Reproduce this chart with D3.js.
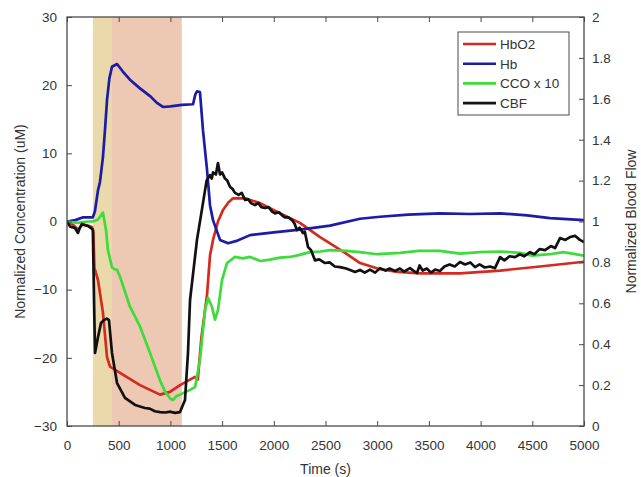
<!DOCTYPE html>
<html>
<head>
<meta charset="utf-8">
<script src="https://cdnjs.cloudflare.com/ajax/libs/d3/7.8.5/d3.min.js"></script>
<style>
  body { margin: 0; background: #fff; }
  text { font-family: "Liberation Sans", Arial, sans-serif; fill: #333; }
</style>
</head>
<body>
<div id="chart"></div>
<script>
// x ticks / y ticks
var xTicks = [0, 500, 1000, 1500, 2000, 2500, 3000, 3500, 4000, 4500, 5000];
var yTicks = [-30, -20, -10, 0, 10, 20, 30];
var y2Ticks = [0, 0.2, 0.4, 0.6, 0.8, 1, 1.2, 1.4, 1.6, 1.8, 2];

// shaded phases (time, s)
var phases = [
  { from: 250, to: 435, color: "#ead9aa" },
  { from: 435, to: 1110, color: "#edc8b2" }
];

// HbO2 (uM)
var hbo2 = [[0,0],[60,-0.5],[110,-1.2],[150,-0.4],[200,-0.6],[240,-0.8],[255,-1.5],[265,-6.8],[300,-8.6],[348,-13.4],[387,-19.9],[416,-21.3],[513,-22.2],[706,-24],[899,-25.4],[996,-25],[1093,-24],[1238,-22.8],[1265,-23.2],[1300,-17],[1354,-10.8],[1383,-5],[1412,-2.7],[1460,0],[1509,1.7],[1560,2.8],[1606,3.4],[1722,3.4],[1867,2.7],[2060,1.2],[2253,-0.2],[2447,-2.3],[2544,-3.2],[2689,-4.6],[2834,-6.1],[3027,-7],[3200,-7.4],[3414,-7.6],[3801,-7.6],[4188,-7.2],[4574,-6.6],[5000,-5.9]];

// Hb (uM)
var hb = [[0,0],[80,0.2],[150,0.6],[250,0.6],[270,1.5],[300,4.6],[319,5.8],[348,9.5],[370,14],[387,17.8],[410,21],[435,22.7],[484,23.1],[540,22],[609,20.8],[700,19.6],[803,18.4],[870,17.4],[928,16.8],[1000,16.9],[1112,17.1],[1219,17.2],[1240,18.6],[1257,19.1],[1286,19],[1315,13.4],[1354,7.6],[1383,2.4],[1412,0.2],[1480,-2.7],[1557,-3.2],[1650,-2.8],[1770,-2],[2000,-1.6],[2253,-1.2],[2400,-0.9],[2544,-0.6],[2834,0.4],[3027,0.7],[3300,1],[3607,1.2],[3900,1.1],[4188,1.2],[4450,0.9],[4671,0.5],[5000,0.2]];

// CCO x 10 (uM)
var cco = [[0,0],[100,-0.2],[200,0],[250,0],[300,0.3],[348,1.3],[377,-1.2],[396,-4.2],[435,-6.7],[460,-7],[484,-7.1],[513,-8.1],[609,-12.5],[706,-15.4],[803,-19.3],[899,-23.3],[950,-25],[1000,-26],[1025,-26.2],[1060,-25.6],[1093,-25.4],[1190,-24.7],[1238,-24.3],[1286,-20.3],[1335,-13],[1364,-11.2],[1402,-12.5],[1431,-14.4],[1460,-13],[1499,-8.6],[1547,-6.1],[1625,-5.2],[1700,-5.4],[1770,-5.2],[1870,-5.8],[1963,-5.6],[2060,-5.3],[2157,-5.2],[2250,-4.9],[2350,-4.5],[2450,-4.4],[2544,-4.2],[2700,-4.3],[2834,-4.5],[3000,-4.8],[3221,-4.6],[3400,-4.3],[3607,-4.3],[3800,-4.7],[3994,-4.5],[4200,-4.4],[4381,-4.6],[4500,-5],[4671,-4.8],[4800,-4.5],[5000,-5]];

// CBF (normalized)
var cbf = [[0,1],[30,0.975],[77,0.968],[106,0.944],[125,0.97],[145,0.988],[174,0.982],[203,0.978],[232,0.968],[250,0.96],[262,0.6],[271,0.357],[300,0.435],[329,0.504],[358,0.518],[385,0.525],[406,0.518],[435,0.357],[484,0.21],[561,0.137],[658,0.103],[754,0.088],[800,0.085],[850,0.072],[899,0.068],[950,0.066],[1000,0.07],[1044,0.064],[1093,0.068],[1141,0.127],[1170,0.357],[1190,0.616],[1209,0.7],[1257,0.91],[1315,1.09],[1350,1.2],[1383,1.227],[1400,1.21],[1412,1.24],[1440,1.23],[1460,1.286],[1480,1.23],[1500,1.24],[1528,1.21],[1550,1.2],[1576,1.17],[1600,1.16],[1625,1.14],[1660,1.13],[1690,1.14],[1722,1.105],[1750,1.11],[1780,1.09],[1818,1.08],[1850,1.09],[1880,1.07],[1915,1.066],[1950,1.07],[1980,1.05],[2012,1.04],[2050,1.045],[2080,1.03],[2108,1.02],[2140,1.02],[2176,1.007],[2200,0.99],[2224,0.958],[2250,0.97],[2282,0.943],[2300,0.95],[2331,0.875],[2360,0.86],[2398,0.81],[2440,0.815],[2495,0.797],[2540,0.8],[2590,0.78],[2640,0.777],[2700,0.77],[2750,0.76],[2785,0.753],[2834,0.763],[2880,0.75],[2930,0.765],[2980,0.75],[3027,0.772],[3080,0.76],[3120,0.77],[3172,0.758],[3220,0.77],[3260,0.755],[3317,0.772],[3350,0.76],[3385,0.748],[3410,0.785],[3440,0.76],[3480,0.77],[3520,0.75],[3560,0.765],[3607,0.758],[3650,0.78],[3700,0.79],[3750,0.78],[3801,0.802],[3850,0.79],[3900,0.8],[3946,0.777],[3990,0.79],[4040,0.775],[4090,0.78],[4139,0.772],[4188,0.826],[4230,0.81],[4280,0.83],[4333,0.826],[4380,0.84],[4420,0.83],[4478,0.85],[4520,0.84],[4570,0.865],[4623,0.86],[4680,0.88],[4720,0.87],[4768,0.919],[4820,0.91],[4865,0.924],[4913,0.93],[4960,0.91],[5000,0.9]];

var series = [
  { name: "HbO2", data: hbo2, color: "#d42a1f", axis: "left" },
  { name: "Hb", data: hb, color: "#1c1ca6", axis: "left" },
  { name: "CCO x 10", data: cco, color: "#3ddc3a", axis: "left" },
  { name: "CBF", data: cbf, color: "#111111", axis: "right" }
];

var W = 641, H = 477;
var margin = { top: 17, right: 57, bottom: 51, left: 67 };
var iw = W - margin.left - margin.right;
var ih = H - margin.top - margin.bottom;

var svg = d3.select("#chart").append("svg")
            .attr("width", W)
            .attr("height", H);

var x = d3.scaleLinear().domain([0, 5000]).range([margin.left, margin.left + iw]);
var y = d3.scaleLinear().domain([-30, 30]).range([margin.top + ih, margin.top]);
var y2 = d3.scaleLinear().domain([0, 2]).range([margin.top + ih, margin.top]);

// phases
svg.selectAll("rect.phase")
   .data(phases)
   .enter().append("rect")
   .attr("class", "phase")
   .attr("x", function(d) { return x(d.from); })
   .attr("y", margin.top)
   .attr("width", function(d) { return x(d.to) - x(d.from); })
   .attr("height", ih)
   .attr("fill", function(d) { return d.color; });

// lines
var clip = svg.append("clipPath").attr("id", "clip")
              .append("rect")
              .attr("x", margin.left).attr("y", margin.top)
              .attr("width", iw).attr("height", ih);

var g = svg.append("g").attr("clip-path", "url(#clip)");
series.forEach(function(s) {
  var sy = s.axis === "left" ? y : y2;
  var line = d3.line()
               .x(function(d) { return x(d[0]); })
               .y(function(d) { return sy(d[1]); })
               .curve(d3.curveLinear);
  g.append("path")
   .datum(s.data)
   .attr("d", line)
   .attr("fill", "none")
   .attr("stroke", s.color)
   .attr("stroke-width", 2.7)
   .attr("stroke-linejoin", "round")
   .attr("stroke-linecap", "round");
});

// axes (ticks inward, matlab style)
var axisColor = "#4a4a4a";
function styleAxis(sel) {
  sel.select(".domain").remove();
  sel.selectAll(".tick line").attr("stroke", axisColor);
  sel.selectAll(".tick text").style("font-size", "13.5px").attr("fill", "#333");
}

svg.append("g")
   .attr("transform", "translate(0," + (margin.top + ih) + ")")
   .call(d3.axisBottom(x).tickValues(xTicks).tickSize(-5).tickPadding(14).tickFormat(d3.format("d")))
   .call(styleAxis);
svg.append("g")
   .attr("transform", "translate(0," + margin.top + ")")
   .call(d3.axisTop(x).tickValues(xTicks).tickSize(-5).tickFormat(""))
   .call(styleAxis);
svg.append("g")
   .attr("transform", "translate(" + margin.left + ",0)")
   .call(d3.axisLeft(y).tickValues(yTicks).tickSize(-5).tickPadding(10))
   .call(styleAxis);
svg.append("g")
   .attr("transform", "translate(" + (margin.left + iw) + ",0)")
   .call(d3.axisRight(y2).tickValues(y2Ticks).tickSize(-5).tickPadding(8).tickFormat(function(d) { return d3.format("~g")(d); }))
   .call(styleAxis);

// box
svg.append("rect")
   .attr("x", margin.left).attr("y", margin.top)
   .attr("width", iw).attr("height", ih)
   .attr("fill", "none")
   .attr("stroke", axisColor)
   .attr("stroke-width", 1.3);

// axis labels
svg.append("text")
   .attr("transform", "translate(25," + (margin.top + ih / 2) + ") rotate(-90)")
   .attr("text-anchor", "middle")
   .style("font-size", "14px")
   .text("Normalized Concentration (uM)");
svg.append("text")
   .attr("transform", "translate(636," + (margin.top + ih / 2) + ") rotate(-90)")
   .attr("text-anchor", "middle")
   .style("font-size", "14px")
   .text("Normalized Blood Flow");
svg.append("text")
   .attr("x", margin.left + iw / 2)
   .attr("y", 474)
   .attr("text-anchor", "middle")
   .style("font-size", "14px")
   .text("Time (s)");

// legend
var legend = svg.append("g").attr("transform", "translate(458,32)");
legend.append("rect")
      .attr("width", 111).attr("height", 83)
      .attr("fill", "#fff")
      .attr("stroke", axisColor)
      .attr("stroke-width", 1);
var items = legend.selectAll("g.item")
                  .data(series)
                  .enter().append("g")
                  .attr("class", "item")
                  .attr("transform", function(d, i) { return "translate(0," + (12 + i * 19.7) + ")"; });
items.append("line")
     .attr("x1", 5).attr("x2", 38)
     .attr("stroke", function(d) { return d.color; })
     .attr("stroke-width", 2.6);
items.append("text")
     .attr("x", 42).attr("y", 5)
     .style("font-size", "13.5px")
     .text(function(d) { return d.name; });
</script>
</body>
</html>
